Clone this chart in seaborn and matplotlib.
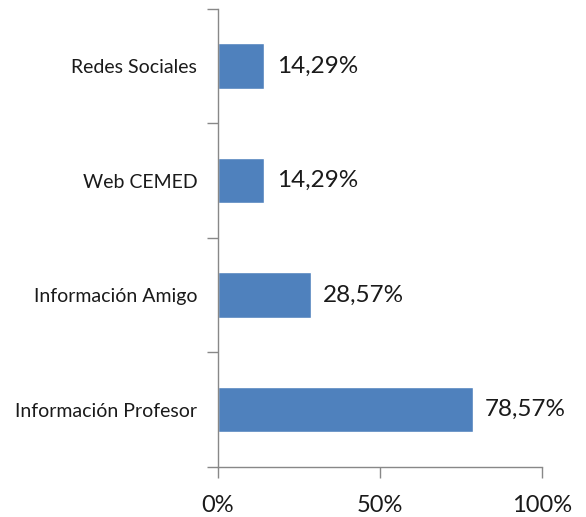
import matplotlib
matplotlib.use("Agg")
import matplotlib.pyplot as plt
import seaborn as sns
import pandas as pd

# values (percent)
categorias = ['Redes Sociales', 'Web CEMED', 'Información Amigo', 'Información Profesor']
porcentajes = [14.29, 14.29, 28.57, 78.57]
etiquetas = ['14,29%', '14,29%', '28,57%', '78,57%']
xticks = [0, 50, 100]
xtick_labels = ['0%', '50%', '100%']

df = pd.DataFrame({'categoria': categorias, 'pct': porcentajes})

sns.set_style('white')
plt.rcParams['font.family'] = ['Lato', 'DejaVu Sans']

fig = plt.figure(figsize=(5.86, 5.17), dpi=100)
ax = fig.add_axes([0.372, 0.097, 0.553, 0.886])

sns.barplot(data=df, x='pct', y='categoria', orient='h', color='#4F81BD',
            saturation=1, width=0.4, ax=ax)

for i, (v, t) in enumerate(zip(porcentajes, etiquetas)):
    ax.annotate(t, xy=(v, i), xytext=(9, 0), textcoords='offset points',
                va='center', ha='left', fontsize=17.5, color='#1a1a1a')

ax.set_xlim(0, 100)
ax.set_ylim(3.5, -0.5)
ax.set_xticks(xticks)
ax.set_xticklabels(xtick_labels, fontsize=17, color='#1a1a1a')
ax.set_yticks(range(len(categorias)))
ax.set_yticklabels(categorias, fontsize=14, color='#1a1a1a')
ax.set_yticks([-0.5, 0.5, 1.5, 2.5, 3.5], minor=True)
ax.tick_params(axis='y', which='major', left=True, length=0, pad=15)
ax.tick_params(axis='y', which='minor', left=True, length=8, width=1,
               color='#888888', direction='out')
ax.tick_params(axis='x', which='major', bottom=True, length=8, width=1,
               color='#888888', direction='out', pad=12)
ax.set_xlabel('')
ax.set_ylabel('')

for s in ['top', 'right']:
    ax.spines[s].set_visible(False)
for s in ['left', 'bottom']:
    ax.spines[s].set_color('#888888')
    ax.spines[s].set_linewidth(1)

fig.savefig('out.png', dpi=100, facecolor='white')
